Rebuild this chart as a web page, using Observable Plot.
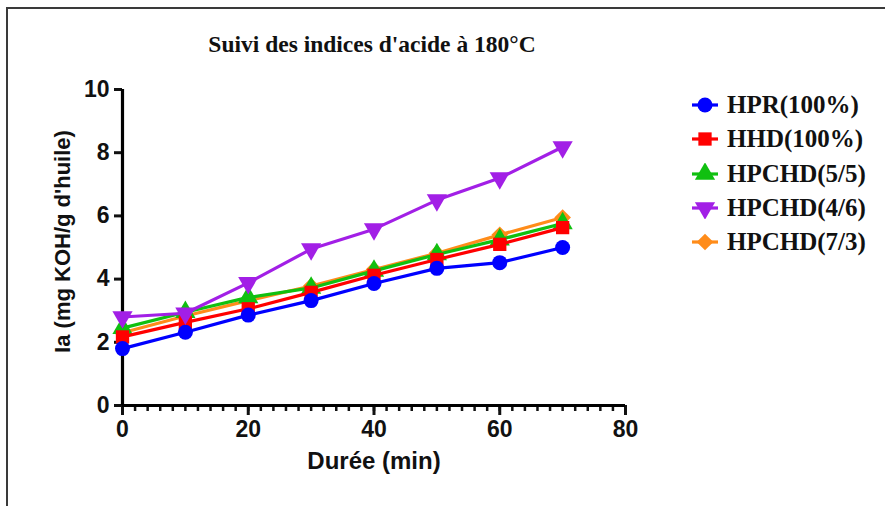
<!DOCTYPE html>
<html>
<head>
<meta charset="utf-8">
<script src="https://cdn.jsdelivr.net/npm/d3@7"></script>
<script src="https://cdn.jsdelivr.net/npm/@observablehq/plot@0.6"></script>
<style>
  html, body { margin: 0; padding: 0; background: #fff; }
  #wrap { position: relative; width: 885px; height: 506px; overflow: hidden; background: #fff; }
  #frame { position: absolute; left: 6px; top: 7px; width: 900px; height: 520px;
           border-left: 2px solid #3a3a3a; border-top: 2px solid #3a3a3a; }
  #title { position: absolute; left: 0; width: 744px; top: 31px; text-align: center;
           font-family: "Liberation Serif", serif; font-weight: bold; font-size: 23.5px; color: #111; }
  #legend { position: absolute; left: 691px; top: 88px; font-family: "Liberation Serif", serif;
            font-weight: bold; font-size: 25px; color: #111; }
  .row { display: flex; align-items: center; height: 34.3px; }
  .row svg { margin-right: 8px; }
  #chart { position: absolute; left: 0; top: 0; }
</style>
</head>
<body>
<div id="wrap">
  <div id="frame"></div>
  <div id="chart"></div>
  <div id="title"></div>
  <div id="legend"></div>
</div>
<script>
// ---- data ----
const chartTitle = "Suivi des indices d'acide à 180°C";
const xTitle = "Durée (min)";
const yTitle = "Ia (mg KOH/g d'huile)";
const times = [0, 10, 20, 30, 40, 50, 60, 70];
const seriesNames = ["HPR(100%)", "HHD(100%)", "HPCHD(5/5)", "HPCHD(4/6)", "HPCHD(7/3)"];
const hpr     = [1.80, 2.32, 2.86, 3.32, 3.86, 4.34, 4.52, 5.00];
const hhd     = [2.17, 2.63, 3.06, 3.58, 4.12, 4.62, 5.10, 5.63];
const hpchd55 = [2.45, 2.95, 3.42, 3.72, 4.26, 4.78, 5.25, 5.76];
const hpchd46 = [2.80, 2.92, 3.88, 4.95, 5.58, 6.50, 7.20, 8.18];
const hpchd73 = [2.30, 2.83, 3.32, 3.78, 4.30, 4.82, 5.40, 5.95];
const seriesColors = ["#0000ff", "#ff0000", "#10c010", "#a21fe6", "#ff8c1a"];
const seriesSymbols = ["circle", "square", "triangle", "triangle", "diamond2"];
const seriesRotate = [0, 0, 0, 180, 0];
const xTicks = [0, 20, 40, 60, 80];
const xMinorTicks = d3.range(0, 81, 2);
const yTicks = [0, 2, 4, 6, 8, 10];

const valuesBySeries = [hpr, hhd, hpchd55, hpchd46, hpchd73];
const rows = [];
seriesNames.forEach((s, i) => {
  times.forEach((t, j) => rows.push({series: s, t, v: valuesBySeries[i][j], rot: seriesRotate[i]}));
});

// draw order: orange, green, red, blue, purple
const drawOrder = ["HPCHD(7/3)", "HPCHD(5/5)", "HHD(100%)", "HPR(100%)", "HPCHD(4/6)"];
const seriesMarks = [];
for (const s of drawOrder) {
  const d = rows.filter(r => r.series === s);
  seriesMarks.push(Plot.line(d, {x: "t", y: "v", stroke: "series", strokeWidth: 3.2}));
  seriesMarks.push(Plot.dot(d, {x: "t", y: "v", fill: "series", symbol: "series", r: 7.5, rotate: "rot", stroke: "none"}));
}

const chart = Plot.plot({
  width: 885,
  height: 506,
  marginLeft: 122,
  marginRight: 260,
  marginTop: 89,
  marginBottom: 101,
  style: {fontFamily: "Liberation Sans, Arial, sans-serif", color: "#111", background: "transparent"},
  x: {domain: [0, 80]},
  y: {domain: [0, 10]},
  color: {domain: seriesNames, range: seriesColors},
  symbol: {domain: seriesNames, range: seriesSymbols},
  marks: [
    Plot.axisX(xMinorTicks, {tickSize: 6, strokeWidth: 2.5, tickFormat: () => "", label: null}),
    Plot.axisX(xTicks, {tickSize: 10, strokeWidth: 3, tickPadding: 5, fontSize: 23, fontWeight: "bold", label: null}),
    Plot.axisY(yTicks, {tickSize: 8, strokeWidth: 3, tickPadding: 5, fontSize: 23, fontWeight: "bold", label: null}),
    Plot.ruleY([0], {strokeWidth: 3.2, stroke: "#000"}),
    Plot.ruleX([0], {strokeWidth: 3.2, stroke: "#000"}),
    ...seriesMarks,
    Plot.text([xTitle], {frameAnchor: "bottom", dy: 63, fontSize: 24, fontWeight: "bold", fill: "#111"}),
    Plot.text([yTitle], {frameAnchor: "left", textAnchor: "middle", dx: -60, dy: -6, rotate: -90, fontSize: 22, fontWeight: "bold", fill: "#111"})
  ]
});
document.getElementById("chart").appendChild(chart);

document.getElementById("title").textContent = chartTitle;

// legend
const legend = d3.select("#legend");
const symMap = {circle: d3.symbolCircle, square: d3.symbolSquare, triangle: d3.symbolTriangle, diamond2: d3.symbolDiamond2};
seriesNames.forEach((s, i) => {
  const row = legend.append("div").attr("class", "row");
  const svg = row.append("svg").attr("width", 28).attr("height", 22);
  svg.append("line").attr("x1", 1).attr("x2", 27).attr("y1", 11).attr("y2", 11)
    .attr("stroke", seriesColors[i]).attr("stroke-width", 3.2);
  svg.append("path")
    .attr("d", d3.symbol(symMap[seriesSymbols[i]], Math.PI * 7.5 * 7.5)())
    .attr("transform", `translate(14,11) rotate(${seriesRotate[i]})`)
    .attr("fill", seriesColors[i]);
  row.append("span").text(s);
});
</script>
</body>
</html>
